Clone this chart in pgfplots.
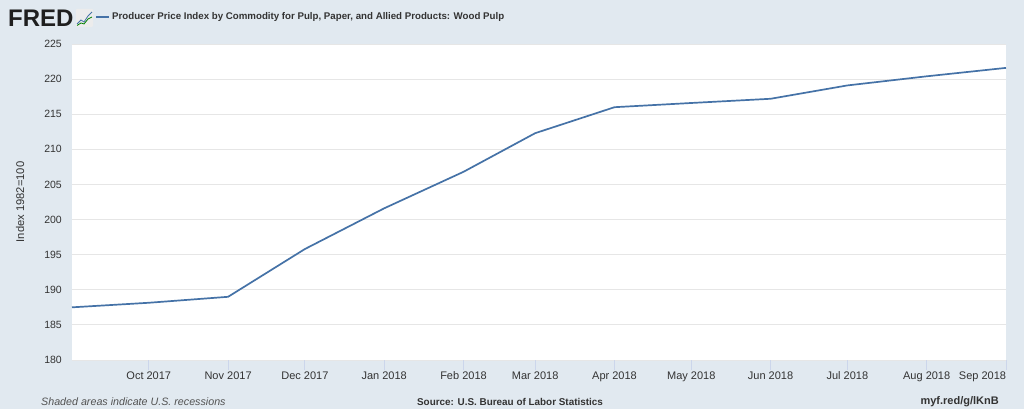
\documentclass[border=0pt]{standalone}
\usepackage{pgfplots}
\pgfplotsset{compat=1.18}
\usepackage{fontspec}
\setmainfont{Liberation Sans}
\definecolor{fredbg}{HTML}{E1E9F0}
\definecolor{fredline}{HTML}{4572A7}
\definecolor{fredgrid}{HTML}{E6E6E6}
\definecolor{fredtext}{HTML}{333333}
\definecolor{fredtick}{HTML}{CCD6EB}
\begin{document}
\begin{tikzpicture}
\fill[fredbg] (0pt,0pt) rectangle (1024pt,412pt);
\fill[white] (0pt,0pt) rectangle (1024pt,3pt);
% FRED logo
\node[anchor=base west, inner sep=0pt, font=\fontsize{24}{24}\selectfont\bfseries, text=black!88] at (8pt,385pt) {FRED};
\fill[white!85!gray, rounded corners=1pt] (76pt,385pt) rectangle (93pt,403pt);
\draw[fredline, line width=0.8pt] (77pt,388pt) -- (81pt,392pt) -- (84pt,390pt) -- (88pt,396pt) -- (92pt,400pt);
\draw[green!50!black, line width=0.8pt] (77pt,386.5pt) -- (81pt,389pt) -- (84pt,388pt) -- (88pt,393pt) -- (92pt,395pt);
\begin{axis}[
  at={(72pt,52pt)}, anchor=south west,
  scale only axis, width=934pt, height=316pt,
  xmin=0, xmax=365, ymin=180, ymax=225,
  ytick={180,185,...,225},
  xtick={30,61,91,122,153,181,212,242,273,303,334,365},
  xticklabels={Oct 2017,Nov 2017,Dec 2017,Jan 2018,Feb 2018,Mar 2018,Apr 2018,May 2018,Jun 2018,Jul 2018,Aug 2018,\makebox[0pt][r]{Sep 2018}},
  ymajorgrids, grid style={fredgrid, line width=0.8pt},
  axis line style={draw=none},
  axis background/.style={fill=white},
  tick align=outside, major tick length=10pt,
  xtick pos=bottom, ytick pos=left,
  xtick style={fredtick, line width=0.8pt},
  ytick style={draw=none},
  /pgf/number format/assume math mode=true,
  yticklabel style={font=\fontsize{10.5}{12}\selectfont, text=fredtext, anchor=east, inner sep=0pt},
  xticklabel style={font=\fontsize{11}{12}\selectfont, text=fredtext, anchor=north, inner sep=0pt, text height=8pt, text depth=2pt, yshift=-1pt},
  ylabel={Index 1982=100},
  every axis y label/.style={at={(axis description cs:0,0.5)}, anchor=center, rotate=90, yshift=52pt, font=\fontsize{11.2}{12}\selectfont, text=fredtext},
  legend style={at={(axis description cs:0.0246,1.0854)}, anchor=west, draw=none, fill=none, inner sep=0pt, font=\fontsize{9.7}{11}\selectfont\bfseries, text=fredtext},
  legend image code/.code={\draw[#1, line width=2pt] (0pt,0pt) -- (13pt,0pt);},
  clip=false,
]
\addplot[fredline, line width=1.7pt] coordinates {
(0,187.5) (30,188.15) (61,189.0) (91,195.8) (122,201.6) (153,206.8) (181,212.3)
(212,216.0) (242,216.6) (273,217.2) (303,219.1) (334,220.4) (365,221.6)};
\addlegendentry{Producer Price Index by Commodity for Pulp, Paper, and Allied Products: Wood Pulp}
\end{axis}
\node[anchor=west, inner sep=0pt, font=\fontsize{10.7}{12}\selectfont\itshape, text=fredtext!85] at (41pt,10pt) {Shaded areas indicate U.S. recessions};
\node[anchor=center, inner sep=0pt, font=\fontsize{9.9}{12}\selectfont\bfseries, text=fredtext] at (510pt,10pt) {Source: U.S. Bureau of Labor Statistics};
\node[anchor=east, inner sep=0pt, font=\fontsize{11}{12}\selectfont\bfseries, text=fredtext] at (999pt,10pt) {myf.red/g/lKnB};
\end{tikzpicture}
\end{document}
